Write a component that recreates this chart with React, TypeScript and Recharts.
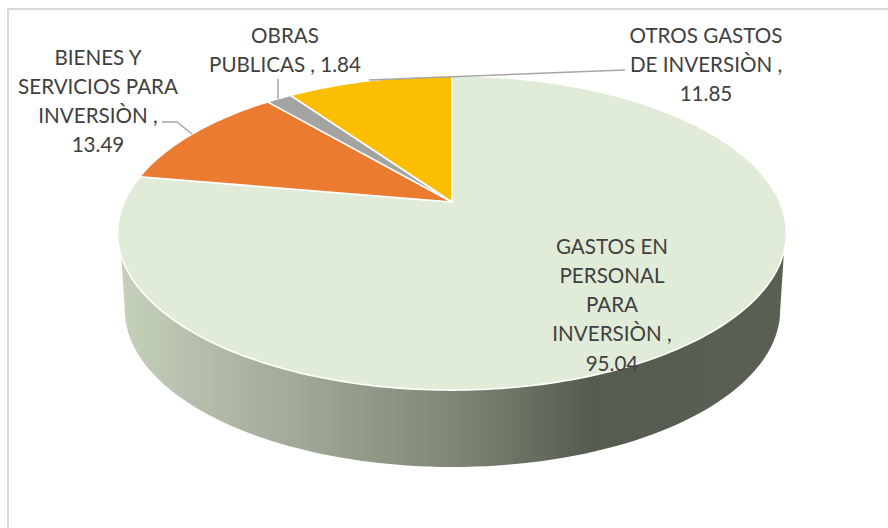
import React from "react";
import { PieChart, Pie } from "recharts";

const categories = [
  "GASTOS EN PERSONAL PARA INVERSIÒN",
  "BIENES Y SERVICIOS PARA INVERSIÒN",
  "OBRAS PUBLICAS",
  "OTROS GASTOS DE INVERSIÒN",
];
const values = [95.04, 13.49, 1.84, 11.85];
const valueLabels = ["95.04", "13.49", "1.84", "11.85"];
const colors = ["#E0ECD8", "#EB7B30", "#A3A3A3", "#FCBE00"];
const labelLines = [
  ["GASTOS EN", "PERSONAL", "PARA", "INVERSIÒN ,", "95.04"],
  ["BIENES Y", "SERVICIOS PARA", "INVERSIÒN ,", "13.49"],
  ["OBRAS", "PUBLICAS , 1.84"],
  ["OTROS GASTOS", "DE INVERSIÒN ,", "11.85"],
];

// Layout (not data)
const W = 888;
const H = 528;
const CX = 452;
const CY = 202;
const R = 327.8;
const SQUASH = 0.4608;
const PERSP = 0.197;
const LABEL_POS = [
  { x: 612, y: 245.5 },
  { x: 98, y: 56.5 },
  { x: 285, y: 34.5 },
  { x: 706, y: 34.5 },
];
const LINE_H = 29.3;
const LEADERS: (number[][] | null)[] = [
  null,
  [[162, 122], [177, 122], [192, 134]],
  [[278, 79], [278, 99]],
  [[369, 80], [625, 70]],
];

const rad = (d: number) => (d * Math.PI) / 180;

function project(angle: number, cx: number, cy: number, r: number) {
  const a = Math.cos(rad(angle));
  const b = -Math.sin(rad(angle));
  const d = 1 - PERSP * b;
  return { x: cx + (r * a) / d, y: cy + (r * SQUASH * b) / d };
}

function SliceShape(props: any) {
  const { cx, cy, outerRadius, startAngle, endAngle, fill } = props;
  const n = Math.max(2, Math.ceil(Math.abs(endAngle - startAngle) / 1));
  const parts = [`M${cx},${cy}`];
  for (let i = 0; i <= n; i++) {
    const p = project(startAngle + ((endAngle - startAngle) * i) / n, cx, cy, outerRadius);
    parts.push(`L${p.x.toFixed(2)},${p.y.toFixed(2)}`);
  }
  parts.push("Z");
  return <path d={parts.join(" ")} fill={fill} stroke="#FFFFFF" strokeWidth={1.6} strokeLinejoin="round" />;
}

function WallShape(props: any) {
  const { cx, outerRadius } = props;
  const ex = cx + 0.5;
  const rxTop = outerRadius * 1.02;
  const rxBottom = rxTop * 0.98;
  const ry = 157;
  const midTop = 233;
  const midBottom = 310;
  const dTop = 21;
  const xTop = rxTop * Math.sqrt(1 - (dTop / ry) ** 2);
  const parts = [`M${ex - xTop},${midTop + dTop}`];
  for (let t = 180; t >= 0; t -= 2) {
    parts.push(`L${(ex + rxBottom * Math.cos(rad(t))).toFixed(2)},${(midBottom + ry * Math.sin(rad(t))).toFixed(2)}`);
  }
  parts.push(`L${ex + xTop},${midTop + dTop}`, `L${ex},${midTop}`, "Z");
  return <path d={parts.join(" ")} fill="url(#wallGradient)" />;
}

function renderLabel(props: any) {
  const i = props.index as number;
  const pos = LABEL_POS[i];
  const lines = labelLines[i];
  const leader = LEADERS[i];
  return (
    <g key={categories[i]}>
      {leader && (
        <polyline
          points={leader.map((p) => p.join(",")).join(" ")}
          fill="none"
          stroke="#A6A6A6"
          strokeWidth={1.5}
        />
      )}
      {lines.map((t, k) => (
        <text
          key={k}
          x={pos.x}
          y={pos.y + k * LINE_H}
          textAnchor="middle"
          dominantBaseline="central"
          fontFamily="Lato, 'Open Sans', sans-serif"
          fontSize={20.6}
          fill="#404040"
        >
          {t}
        </text>
      ))}
    </g>
  );
}

const sliceData = categories.map((name, i) => ({
  name,
  value: values[i],
  label: valueLabels[i],
  fill: colors[i],
}));
const wallData = [{ name: "wall", value: values.reduce((s, v) => s + v, 0) }];

export default function App() {
  return (
    <div style={{ position: "absolute", left: 0, top: 0, width: W, height: H, background: "#FFFFFF", overflow: "hidden" }}>
      <div style={{ position: "absolute", left: 7, top: 8, width: 2, height: H - 8, background: "#D9D9D9" }} />
      <div style={{ position: "absolute", left: 7, top: 8, width: W - 7, height: 1.5, background: "#D9D9D9" }} />
      <div style={{ position: "absolute", left: 0, top: 0 }}>
        <PieChart width={W} height={H} margin={{ top: 0, right: 0, bottom: 0, left: 0 }}>
          <defs>
            <linearGradient id="wallGradient" gradientUnits="userSpaceOnUse" x1={118} y1={0} x2={787} y2={0}>
              <stop offset="0%" stopColor="#C5D1BB" />
              <stop offset="27%" stopColor="#A0A897" />
              <stop offset="50%" stopColor="#7F8777" />
              <stop offset="71%" stopColor="#555B4F" />
              <stop offset="100%" stopColor="#5B6054" />
            </linearGradient>
          </defs>
          <Pie
            data={wallData}
            dataKey="value"
            cx={CX}
            cy={CY}
            outerRadius={R}
            startAngle={90}
            endAngle={-270}
            shape={WallShape}
            isAnimationActive={false}
            label={false}
            labelLine={false}
            stroke="none"
          />
          <Pie
            data={sliceData}
            dataKey="value"
            nameKey="name"
            cx={CX}
            cy={CY}
            outerRadius={R}
            startAngle={90}
            endAngle={-270}
            shape={SliceShape}
            isAnimationActive={false}
            label={renderLabel}
            labelLine={false}
          />
        </PieChart>
      </div>
    </div>
  );
}
